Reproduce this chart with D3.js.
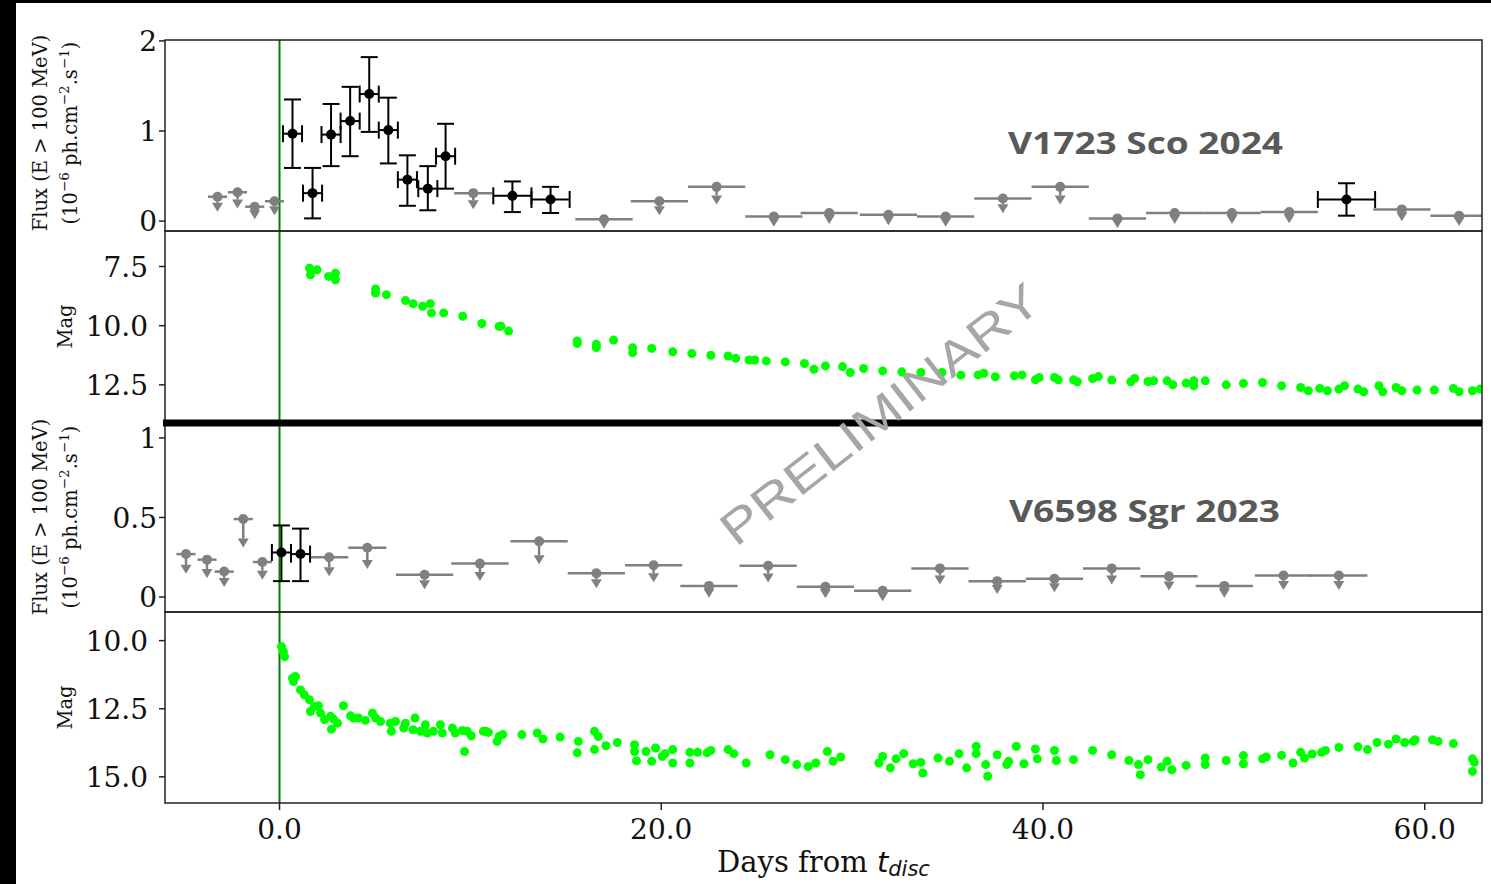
<!DOCTYPE html>
<html>
<head>
<meta charset="utf-8">
<script src="https://cdn.jsdelivr.net/npm/d3@7"></script>
<style>
  html, body { margin: 0; padding: 0; background: #fff; }
  svg { display: block; }
</style>
</head>
<body>
<svg id="chart" width="1491" height="884"></svg>
<script>
// ---- data -------------------------------------------------------------
// x axis: days from discovery
const xTickValues = [0, 20, 40, 60];
const xTickLabels = ["0.0", "20.0", "40.0", "60.0"];

// V1723 Sco 2024 — Fermi-LAT flux, upper limits [day, flux, half bin width]
const scoUpperLimits = [
  [-3.25, 0.27, 0.5], [-2.2, 0.32, 0.5], [-1.3, 0.16, 0.5], [-0.26, 0.22, 0.5],
  [10.15, 0.31, 1.0],
  [17.0, 0.02, 1.5], [19.9, 0.22, 1.5], [22.9, 0.38, 1.5], [25.9, 0.05, 1.5],
  [28.8, 0.09, 1.5], [31.9, 0.07, 1.5], [34.9, 0.05, 1.5], [37.9, 0.25, 1.5],
  [40.9, 0.38, 1.5], [43.9, 0.03, 1.5], [46.9, 0.09, 1.5], [49.9, 0.09, 1.5],
  [52.9, 0.10, 1.5], [58.8, 0.13, 1.5], [61.8, 0.06, 1.5]
];
// detections [day, flux, lower, upper, half bin width]
const scoDetections = [
  [0.68, 0.97, 0.59, 1.35, 0.5], [1.73, 0.31, 0.03, 0.59, 0.5],
  [2.7, 0.96, 0.61, 1.30, 0.5], [3.7, 1.11, 0.72, 1.49, 0.5],
  [4.7, 1.41, 0.99, 1.82, 0.5], [5.7, 1.01, 0.64, 1.37, 0.5],
  [6.7, 0.46, 0.17, 0.73, 0.5], [7.77, 0.36, 0.12, 0.61, 0.5],
  [8.7, 0.72, 0.36, 1.08, 0.5],
  [12.2, 0.28, 0.10, 0.44, 1.0], [14.2, 0.24, 0.09, 0.38, 1.0],
  [55.9, 0.24, 0.06, 0.42, 1.5]
];
// optical magnitudes [day, mag]
const scoMag = [
  [1.57, 7.57], [1.62, 7.85], [1.97, 7.64], [2.57, 7.92], [2.93, 7.78], [2.93, 8.06],
  [5.03, 8.45], [5.03, 8.62], [5.6, 8.69], [6.6, 8.94], [7.0, 9.07], [7.5, 9.18],
  [7.9, 9.07], [7.96, 9.46], [8.6, 9.46], [9.6, 9.6], [10.6, 9.91], [11.5, 10.03],
  [11.6, 10.02], [12.0, 10.23],
  [15.6, 10.65], [15.6, 10.75], [16.6, 10.79], [16.6, 10.93], [17.5, 10.61],
  [18.5, 10.93], [18.5, 11.14], [19.5, 10.96], [20.6, 11.1], [21.6, 11.18],
  [22.6, 11.25], [23.5, 11.28], [23.9, 11.38], [24.6, 11.45], [24.9, 11.45],
  [25.5, 11.49], [26.5, 11.53], [27.5, 11.6], [28.0, 11.84], [28.6, 11.7],
  [29.5, 11.73], [29.9, 11.98], [30.6, 11.81], [31.6, 11.91], [32.6, 11.95],
  [33.6, 11.98], [34.7, 11.98], [35.7, 12.09], [36.6, 12.08], [36.9, 12.01],
  [37.5, 12.16], [38.5, 12.12], [38.9, 12.08], [39.6, 12.29], [39.8, 12.19],
  [40.6, 12.19], [40.8, 12.29], [41.6, 12.29], [41.8, 12.37], [42.6, 12.23],
  [42.9, 12.15], [43.6, 12.3], [44.6, 12.37], [44.8, 12.23], [45.5, 12.36],
  [45.8, 12.33], [46.5, 12.33], [46.8, 12.5], [47.5, 12.43], [47.9, 12.54],
  [47.9, 12.33], [48.5, 12.33], [49.6, 12.5], [50.5, 12.44], [51.5, 12.4],
  [52.5, 12.54], [53.5, 12.61], [53.9, 12.75], [54.5, 12.65], [54.9, 12.75],
  [55.5, 12.68], [55.8, 12.54], [56.5, 12.68], [56.8, 12.79], [57.6, 12.54],
  [57.8, 12.79], [58.5, 12.61], [58.8, 12.75], [59.6, 12.72], [60.5, 12.72],
  [61.5, 12.65], [61.8, 12.79], [62.5, 12.75], [62.9, 12.68]
];

// V6598 Sgr 2023 — Fermi-LAT flux
const sgrUpperLimits = [
  [-4.9, 0.27, 0.5], [-3.8, 0.235, 0.5], [-2.9, 0.16, 0.5], [-1.9, 0.49, 0.5],
  [-0.9, 0.22, 0.5],
  [2.6, 0.25, 1.0], [4.6, 0.31, 1.0],
  [7.6, 0.14, 1.5], [10.5, 0.21, 1.5], [13.6, 0.35, 1.5], [16.6, 0.15, 1.5],
  [19.6, 0.20, 1.5], [22.5, 0.07, 1.5], [25.6, 0.197, 1.5], [28.6, 0.065, 1.5],
  [31.6, 0.04, 1.5], [34.6, 0.18, 1.5], [37.6, 0.10, 1.5], [40.6, 0.115, 1.5],
  [43.6, 0.18, 1.5], [46.6, 0.13, 1.5], [49.5, 0.07, 1.5], [52.6, 0.135, 1.5],
  [55.5, 0.135, 1.5]
];
const sgrDetections = [
  [0.1, 0.28, 0.10, 0.45, 0.5], [1.1, 0.27, 0.10, 0.43, 0.5]
];
const sgrMag = [
  [0.1, 10.22], [0.2, 10.4], [0.27, 10.59], [0.68, 11.38], [0.84, 11.32], [0.73, 11.5],
  [1.1, 11.81], [1.3, 11.99], [1.57, 12.17], [1.83, 12.42], [2.04, 12.39], [1.62, 12.6],
  [2.15, 12.66], [2.36, 12.9], [2.67, 12.78], [2.83, 12.88], [2.72, 13.25], [3.04, 13.03],
  [3.35, 12.39], [3.72, 12.76], [3.87, 12.84], [4.14, 12.84], [4.5, 12.93], [4.87, 12.66],
  [5.03, 12.84], [5.29, 12.97], [5.8, 13.03], [5.86, 13.33], [6.07, 12.97], [6.5, 13.21],
  [6.6, 13.03], [7.1, 12.84], [7.0, 13.27], [7.38, 13.33], [7.64, 13.09], [7.75, 13.39],
  [8.06, 13.33], [8.43, 13.09], [8.53, 13.39], [9.06, 13.21], [9.21, 13.39], [9.58, 13.3],
  [9.69, 14.07], [9.84, 13.33], [10.05, 13.49], [10.68, 13.33], [10.94, 13.37],
  [11.4, 13.7], [11.5, 13.52], [10.8, 13.33], [11.7, 13.45], [12.7, 13.45],
  [13.5, 13.39], [13.8, 13.61], [14.7, 13.54], [15.6, 14.12], [15.66, 13.7],
  [16.5, 13.33], [16.5, 14.0], [16.7, 13.52], [17.1, 13.86], [17.7, 13.74],
  [18.6, 13.82], [18.6, 14.07], [18.7, 14.41], [19.2, 14.07], [19.5, 14.43],
  [19.7, 13.94], [20.05, 14.25], [20.2, 14.15], [20.6, 14.49], [20.6, 14.0],
  [21.5, 14.1], [21.5, 14.49], [21.9, 14.1], [22.4, 14.12], [22.6, 14.03],
  [23.5, 14.0], [23.8, 14.15], [24.45, 14.49], [25.7, 14.19], [26.5, 14.37],
  [27.1, 14.55], [27.7, 14.62], [28.1, 14.49], [28.7, 14.07], [29.0, 14.43],
  [29.4, 14.27], [31.4, 14.49], [31.6, 14.25], [32.0, 14.67], [32.3, 14.34],
  [32.7, 14.15], [33.2, 14.52], [33.6, 14.47], [33.7, 14.86], [34.5, 14.31],
  [35.1, 14.43], [35.6, 14.15], [36.0, 14.67], [36.5, 13.88], [36.5, 14.15],
  [37.0, 14.55], [37.1, 14.98], [37.6, 14.19], [38.1, 14.55], [38.2, 14.43],
  [38.6, 13.88], [39.0, 14.52], [39.6, 13.98], [39.7, 14.34], [40.6, 14.03],
  [40.7, 14.4], [41.6, 14.37], [42.6, 14.03], [43.6, 14.19], [44.5, 14.4],
  [45.0, 14.55], [45.1, 14.92], [45.5, 14.37], [46.2, 14.64], [46.5, 14.43],
  [46.75, 14.74], [47.5, 14.58], [48.5, 14.55], [48.5, 14.31], [49.6, 14.4],
  [50.5, 14.22], [50.5, 14.52], [51.5, 14.34], [51.7, 14.27], [52.5, 14.21],
  [53.1, 14.49], [53.5, 14.1], [53.7, 14.31], [54.1, 14.16], [54.6, 14.1],
  [54.8, 14.03], [55.5, 13.92], [56.5, 13.9], [57.0, 14.0], [57.5, 13.74],
  [58.1, 13.8], [58.5, 13.61], [58.95, 13.74], [59.4, 13.7], [59.5, 13.64],
  [60.4, 13.64], [60.7, 13.7], [61.5, 13.78], [62.5, 14.8], [62.5, 14.34],
  [62.6, 14.47]
];

// y tick values / labels per panel
const fluxScoTicks = [0, 1, 2];
const fluxScoLabels = ["0", "1", "2"];
const magScoTicks = [7.5, 10.0, 12.5];
const magScoLabels = ["7.5", "10.0", "12.5"];
const fluxSgrTicks = [0, 0.5, 1];
const fluxSgrLabels = ["0", "0.5", "1"];
const magSgrTicks = [10.0, 12.5, 15.0];
const magSgrLabels = ["10.0", "12.5", "15.0"];

const novaNames = ["V1723 Sco 2024", "V6598 Sgr 2023"];

// ---- layout -----------------------------------------------------------
const svg = d3.select("#chart");
const W = 1491, H = 884;
const left = 165, right = 1482;
const rows = [40, 231, 422, 612, 803];

const serif = "'DejaVu Serif', serif";
const tickFont = 28;
const upperLimitDrop = 0.25; // stem length of an upper-limit arrow, as fraction of the value

const x = d3.scaleLinear().domain([-6, 63]).range([left, right]);

const panels = [
  { y: d3.scaleLinear().domain([-0.11, 2.01]).range([rows[1], rows[0]]),
    ticks: fluxScoTicks, labels: fluxScoLabels, labelEnd: 157, kind: "flux" },
  { y: d3.scaleLinear().domain([6.0, 14.07]).range([rows[1], rows[2]]),
    ticks: magScoTicks, labels: magScoLabels, labelEnd: 148, kind: "mag" },
  { y: d3.scaleLinear().domain([-0.094, 1.10]).range([rows[3], rows[2]]),
    ticks: fluxSgrTicks, labels: fluxSgrLabels, labelEnd: 157, kind: "flux" },
  { y: d3.scaleLinear().domain([8.95, 15.96]).range([rows[3], rows[4]]),
    ticks: magSgrTicks, labels: magSgrLabels, labelEnd: 148, kind: "mag" }
];

svg.append("rect").attr("width", W).attr("height", H).attr("fill", "#fff");

const defs = svg.append("defs");
panels.forEach((p, i) => {
  defs.append("clipPath").attr("id", "clip" + i)
    .append("rect")
    .attr("x", left).attr("y", rows[i])
    .attr("width", right - left).attr("height", rows[i + 1] - rows[i]);
});

// y axes: ticks and labels
panels.forEach((p, i) => {
  const g = svg.append("g");
  p.ticks.forEach((t, k) => {
    const yy = p.y(t);
    g.append("line").attr("x1", left - 6).attr("x2", left)
      .attr("y1", yy).attr("y2", yy).attr("stroke", "#222").attr("stroke-width", 1.5);
    g.append("text").attr("x", p.labelEnd).attr("y", yy)
      .attr("dy", "0.36em").attr("text-anchor", "end")
      .attr("font-family", serif).attr("font-size", tickFont).attr("fill", "#111")
      .text(p.labels[k]);
  });
});

// x axis at the bottom panel
const xAxisG = svg.append("g");
xTickValues.forEach((t, k) => {
  xAxisG.append("line").attr("x1", x(t)).attr("x2", x(t))
    .attr("y1", rows[4]).attr("y2", rows[4] + 7).attr("stroke", "#222").attr("stroke-width", 1.5);
  xAxisG.append("text").attr("x", x(t)).attr("y", 839)
    .attr("text-anchor", "middle").attr("font-family", serif)
    .attr("font-size", tickFont).attr("fill", "#111").text(xTickLabels[k]);
});

const xLabel = svg.append("text").attr("x", (left + right) / 2).attr("y", 872)
  .attr("text-anchor", "middle").attr("font-family", serif)
  .attr("font-size", 29).attr("fill", "#111");
xLabel.append("tspan").text("Days from ");
xLabel.append("tspan").attr("font-family", "'DejaVu Sans', sans-serif")
  .attr("font-style", "italic").text("t");
xLabel.append("tspan").attr("font-family", "'DejaVu Sans', sans-serif")
  .attr("font-style", "italic").attr("font-size", 21).attr("dy", 4).text("disc");

// y axis titles
function fluxTitle(cy) {
  const g = svg.append("g").attr("transform", `translate(0,${cy})`);
  g.append("text").attr("transform", "translate(40,0) rotate(-90)")
    .attr("text-anchor", "middle").attr("dy", "0.35em")
    .attr("font-family", serif).attr("font-size", 19.5).attr("fill", "#111")
    .text("Flux (E > 100 MeV)");
  const t = g.append("text").attr("transform", "translate(70,0) rotate(-90)")
    .attr("text-anchor", "middle").attr("dy", "0.35em")
    .attr("font-family", serif).attr("font-size", 19.5).attr("fill", "#111");
  t.append("tspan").text("(10");
  t.append("tspan").attr("font-size", 13.5).attr("dy", -8).text("\u22126");
  t.append("tspan").attr("dy", 8).text(" ph.cm");
  t.append("tspan").attr("font-size", 13.5).attr("dy", -8).text("\u22122");
  t.append("tspan").attr("dy", 8).text(".s");
  t.append("tspan").attr("font-size", 13.5).attr("dy", -8).text("\u22121");
  t.append("tspan").attr("dy", 8).text(")");
}
function magTitle(cy) {
  svg.append("text").attr("transform", `translate(65,${cy}) rotate(-90)`)
    .attr("text-anchor", "middle").attr("dy", "0.35em")
    .attr("font-family", serif).attr("font-size", 19.5).attr("fill", "#111")
    .text("Mag");
}
fluxTitle(133);
magTitle((rows[1] + rows[2]) / 2);
fluxTitle((rows[2] + rows[3]) / 2);
magTitle((rows[3] + rows[4]) / 2);

// discovery time marker
svg.append("line").attr("x1", x(0)).attr("x2", x(0))
  .attr("y1", rows[0]).attr("y2", rows[4])
  .attr("stroke", "#008000").attr("stroke-width", 2);

// ---- marks ------------------------------------------------------------
const gray = "#808080";

function drawUpperLimits(i, data) {
  const p = panels[i];
  const g = svg.append("g").attr("clip-path", `url(#clip${i})`);
  data.forEach(([d, f, hw]) => {
    const cx = x(d), cy = p.y(f);
    g.append("line").attr("x1", x(d - hw)).attr("x2", x(d + hw))
      .attr("y1", cy).attr("y2", cy).attr("stroke", gray).attr("stroke-width", 2.5);
    const end = p.y(f * (1 - upperLimitDrop));
    g.append("line").attr("x1", cx).attr("x2", cx).attr("y1", cy).attr("y2", end)
      .attr("stroke", gray).attr("stroke-width", 2.5);
    g.append("path")
      .attr("d", `M${cx - 5.5},${end} L${cx + 5.5},${end} L${cx},${end + 9} Z`)
      .attr("fill", gray);
    g.append("circle").attr("cx", cx).attr("cy", cy).attr("r", 5).attr("fill", gray);
  });
}

function drawDetections(i, data) {
  const p = panels[i];
  const g = svg.append("g").attr("clip-path", `url(#clip${i})`);
  const cap = 8.5;
  data.forEach(([d, f, lo, hi, hw]) => {
    const cx = x(d), cy = p.y(f);
    const x0 = x(d - hw), x1 = x(d + hw), y0 = p.y(lo), y1 = p.y(hi);
    const segs = [
      [x0, cy, x1, cy], [cx, y0, cx, y1],
      [x0, cy - cap, x0, cy + cap], [x1, cy - cap, x1, cy + cap],
      [cx - cap, y0, cx + cap, y0], [cx - cap, y1, cx + cap, y1]
    ];
    segs.forEach(s => g.append("line")
      .attr("x1", s[0]).attr("y1", s[1]).attr("x2", s[2]).attr("y2", s[3])
      .attr("stroke", "#000").attr("stroke-width", 2));
    g.append("circle").attr("cx", cx).attr("cy", cy).attr("r", 5).attr("fill", "#000");
  });
}

function drawMags(i, data) {
  const p = panels[i];
  svg.append("g").attr("clip-path", `url(#clip${i})`)
    .selectAll("circle").data(data).join("circle")
    .attr("cx", d => x(d[0])).attr("cy", d => p.y(d[1]))
    .attr("r", 4.5).attr("fill", "#00ff00");
}

drawUpperLimits(0, scoUpperLimits);
drawDetections(0, scoDetections);
drawMags(1, scoMag);
drawUpperLimits(2, sgrUpperLimits);
drawDetections(2, sgrDetections);
drawMags(3, sgrMag);

// panel frames
panels.forEach((p, i) => {
  svg.append("rect").attr("x", left).attr("y", rows[i])
    .attr("width", right - left).attr("height", rows[i + 1] - rows[i])
    .attr("fill", "none").attr("stroke", "#222").attr("stroke-width", 1.5);
});

// separator between the two novae
svg.append("line").attr("x1", left - 2).attr("x2", right)
  .attr("y1", 423).attr("y2", 423).attr("stroke", "#000").attr("stroke-width", 7);

// nova names
const nameFont = "'Open Sans', 'Liberation Sans', sans-serif";
[[1008, 154], [1009, 522]].forEach(([tx, ty], k) => {
  svg.append("text").attr("x", tx).attr("y", ty)
    .attr("font-family", nameFont).attr("font-weight", "bold")
    .attr("font-size", 31).attr("fill", "#595959")
    .attr("textLength", k === 0 ? 275 : 271).attr("lengthAdjust", "spacingAndGlyphs")
    .text(novaNames[k]);
});

// watermark
svg.append("text").attr("transform", "translate(880,414) rotate(-38)")
  .attr("text-anchor", "middle").attr("dy", "0.35em")
  .attr("font-family", "'Liberation Sans', sans-serif").attr("font-size", 47).attr("fill", "#a6a6a6")
  .attr("textLength", 392).attr("lengthAdjust", "spacingAndGlyphs")
  .text("PRELIMINARY");

// outer border strips
svg.append("rect").attr("x", 0).attr("y", 0).attr("width", 16).attr("height", H).attr("fill", "#000");
svg.append("rect").attr("x", 0).attr("y", 0).attr("width", W).attr("height", 3).attr("fill", "#000");
</script>
</body>
</html>
